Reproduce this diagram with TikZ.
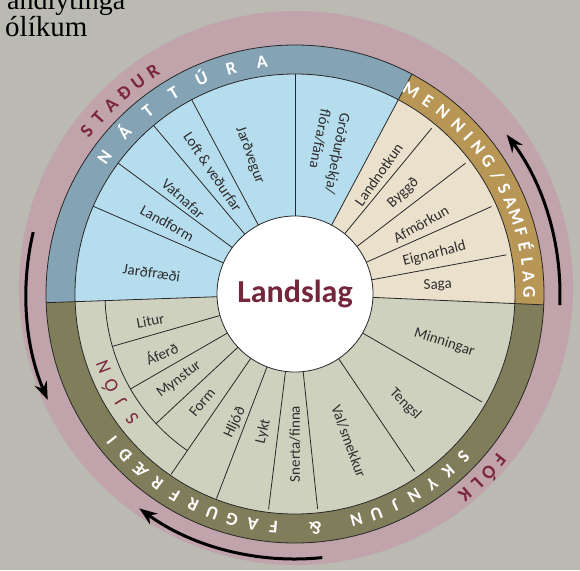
\documentclass[tikz,border=0pt]{standalone}
\usepackage{fontspec}
\setmainfont{Carlito}
\newfontfamily\notefont{Liberation Serif}
\usetikzlibrary{arrows.meta}

\definecolor{bggray}{RGB}{186,186,178}
\definecolor{rimpink}{RGB}{192,163,171}
\definecolor{natband}{RGB}{132,163,180}
\definecolor{natfill}{RGB}{182,221,238}
\definecolor{menband}{RGB}{183,150,86}
\definecolor{menfill}{RGB}{234,224,204}
\definecolor{skyband}{RGB}{128,125,90}
\definecolor{skyfill}{RGB}{207,209,191}
\definecolor{linegray}{RGB}{40,40,40}
\definecolor{labelgray}{RGB}{45,45,45}
\definecolor{rimred}{RGB}{122,38,62}
\definecolor{titlered}{RGB}{116,38,58}

\begin{document}
\begin{tikzpicture}[x=1pt,y=1pt,
    lbl/.style={font=\fontsize{15}{20}\selectfont,text=labelgray,inner sep=0pt},
    bandlet/.style={font=\fontsize{18}{18}\selectfont\bfseries,text=white,anchor=base,inner sep=0pt},
    rimlet/.style={font=\fontsize{19}{19}\selectfont\bfseries,text=rimred,anchor=base,inner sep=0pt},
    sjonlet/.style={font=\fontsize{19}{19}\selectfont,text=rimred,anchor=base,inner sep=0pt},
    divider/.style={draw=linegray,line width=0.8pt},
    ringarrow/.style={line width=3pt,-{Stealth[length=18pt,width=13pt]}}]

  \useasboundingbox (-295,-276) rectangle (285,294);
  \fill[bggray] (-295,-276) rectangle (285,294);

  % text at the top left, cut by the page
  \node[anchor=base west,inner sep=0pt,font=\notefont\fontsize{28}{28}\selectfont] (noteA) at (-288,284) {andlýtinga};
  \node[anchor=base west,inner sep=0pt,font=\notefont\fontsize{29}{29}\selectfont] (noteB) at (-290,257) {ólíkum};

  \fill[rimpink] (1,6) circle (277);

  % outer bands
  \fill[natband] (62:249) arc[start angle=62,end angle=182,radius=249] -- (182:220) arc[start angle=182,end angle=62,radius=220] -- cycle;
  \fill[menband] (-2.5:249) arc[start angle=-2.5,end angle=62,radius=249] -- (62:220) arc[start angle=62,end angle=-2.5,radius=220] -- cycle;
  \fill[skyband] (182:249) arc[start angle=182,end angle=357.5,radius=249] -- (357.5:220) arc[start angle=357.5,end angle=182,radius=220] -- cycle;

  % inner sectors
  \fill[natfill] (0,0) -- (62:220) arc[start angle=62,end angle=182,radius=220] -- cycle;
  \fill[menfill] (0,0) -- (-2.5:220) arc[start angle=-2.5,end angle=62,radius=220] -- cycle;
  \fill[skyfill] (0,0) -- (182:220) arc[start angle=182,end angle=357.5,radius=220] -- cycle;

  \draw[divider] (0,0) circle (249);
  \draw[divider] (0,0) circle (220);
  \draw[divider] (62:78) -- (62:249);
  \draw[divider] (182:78) -- (182:249);
  \draw[divider] (-2.5:78) -- (-2.5:249);

  % nattura
  \draw[divider] (156.5:78) -- (156.5:220);
  \draw[divider] (143.5:78) -- (143.5:220);
  \draw[divider] (130:78) -- (130:220);
  \draw[divider] (118:78) -- (118:220);
  \draw[divider] (90:78) -- (90:220);
  % menning
  \draw[divider] (50.5:78) -- (50.5:215);
  \draw[divider] (37.5:78) -- (37.5:215);
  \draw[divider] (24:78) -- (24:215);
  \draw[divider] (10.5:78) -- (10.5:215);
  % skynjun
  \draw[divider] (196:78) -- (196:190);
  \draw[divider] (210:78) -- (210:190);
  \draw[divider] (223:78) -- (223:190);
  \draw[divider] (182:190) arc[start angle=182,end angle=235.5,radius=190];
  \draw[divider] (235.5:78) -- (235.5:219);
  \draw[divider] (249:78) -- (249:219);
  \draw[divider] (263:78) -- (263:217);
  \draw[divider] (276:78) -- (276:216);
  \draw[divider] (304:78) -- (304:214);
  \draw[divider] (330:78) -- (330:216);

  \node[circle,draw=linegray,line width=0.8pt,fill=white,minimum size=156pt,inner sep=0pt] (hub) at (0,0) {};
  \node[font=\fontsize{32}{32}\selectfont\bfseries,text=titlered] (landslag) at (0,0) {Landslag};

  % labels
  \node[lbl,rotate=-8] (jardfraedi) at (171.5:145) {Jarðfræði};
  \node[lbl,rotate=-29] (landform) at (151:146) {Landform};
  \node[lbl,rotate=-42] (vatnafar) at (139.5:147) {Vatnafar};
  \node[lbl,rotate=-56] (loft) at (124:147) {Loft \& veðurfar};
  \node[lbl,rotate=-70] (jardvegur) at (108:146) {Jarðvegur};
  \node[lbl,rotate=-101,align=left] (grodur) at (77:146) {Gróðurþekja/\\flóra/fána};

  \node[lbl,rotate=55] (landnotkun) at (55:146) {Landnotkun};
  \node[lbl,rotate=43] (byggd) at (43:148) {Byggð};
  \node[lbl,rotate=29] (afmorkun) at (29:144) {Afmörkun};
  \node[lbl,rotate=14] (eignarhald) at (16:145) {Eignarhald};
  \node[lbl,rotate=3] (saga) at (3.5:143) {Saga};

  \node[lbl,rotate=10.5] (litur) at (190.5:147) {Litur};
  \node[lbl,rotate=24] (aferd) at (204:146) {Áferð};
  \node[lbl,rotate=37] (mynstur) at (216.5:144) {Mynstur};
  \node[lbl,rotate=50] (form) at (229.5:143) {Form};
  \node[lbl,rotate=65] (hljod) at (245:142) {Hljóð};
  \node[lbl,rotate=77] (lykt) at (257:141) {Lykt};
  \node[lbl,rotate=90] (snerta) at (270:150) {Snerta/finna};
  \node[lbl,rotate=-70] (val) at (290:157) {Val/smekkur};
  \node[lbl,rotate=-45] (tengsl) at (315:156) {Tengsl};
  \node[lbl,rotate=-18] (minningar) at (342:157) {Minningar};

  % band titles
  \foreach \l [count=\i from 0] in {N,Á,T,T,Ú,R,A}
    \node[bandlet,rotate={54.3-7.7*\i}] (nat\i) at ({144.3-7.7*\i}:228.5) {\l};
  \foreach \a/\l [count=\i] in {60.3/M,55.5/E,50.9/N,45.9/N,42.3/I,38.6/N,34.5/G,30.3/{/},26.7/S,23/A,19.3/M,15.3/F,11.7/É,7.9/L,4.2/A,0.5/G}
    \node[bandlet,rotate=\a-90] (men\i) at (\a:228.5) {\l};
  \foreach \l [count=\i from 0] in {S,K,Y,N,J,U,N,{},\&,{},F,A,G,U,R,F,R,Æ,Ð,I}
    \node[bandlet,rotate={226-5.13*\i}] (sky\i) at ({316-5.13*\i}:228.5) {\l};

  % rim titles
  \foreach \l [count=\i from 0] in {S,T,A,Ð,U,R}
    \node[rimlet,rotate={52-3.9*\i}] (stadur\i) at ({142-3.9*\i}:258) {\l};
  \foreach \l [count=\i from 0] in {F,Ó,L,K}
    \node[rimlet,rotate={231-3.6*\i}] (folk\i) at ({321-3.6*\i}:257) {\l};
  \foreach \l [count=\i from 0] in {S,J,Ó,N}
    \node[sjonlet,rotate={127.4-5.5*\i}] (sjon\i) at ({217.4-5.5*\i}:199) {\l};

  % arrows in the rim
  \draw[ringarrow] (-2.4:265) arc[start angle=-2.4,end angle=37,radius=265];
  \draw[ringarrow] (166.7:269) arc[start angle=166.7,end angle=203.2,radius=269];
  \draw[ringarrow] (275.9:265) arc[start angle=275.9,end angle=234,radius=265];
\end{tikzpicture}
\end{document}
